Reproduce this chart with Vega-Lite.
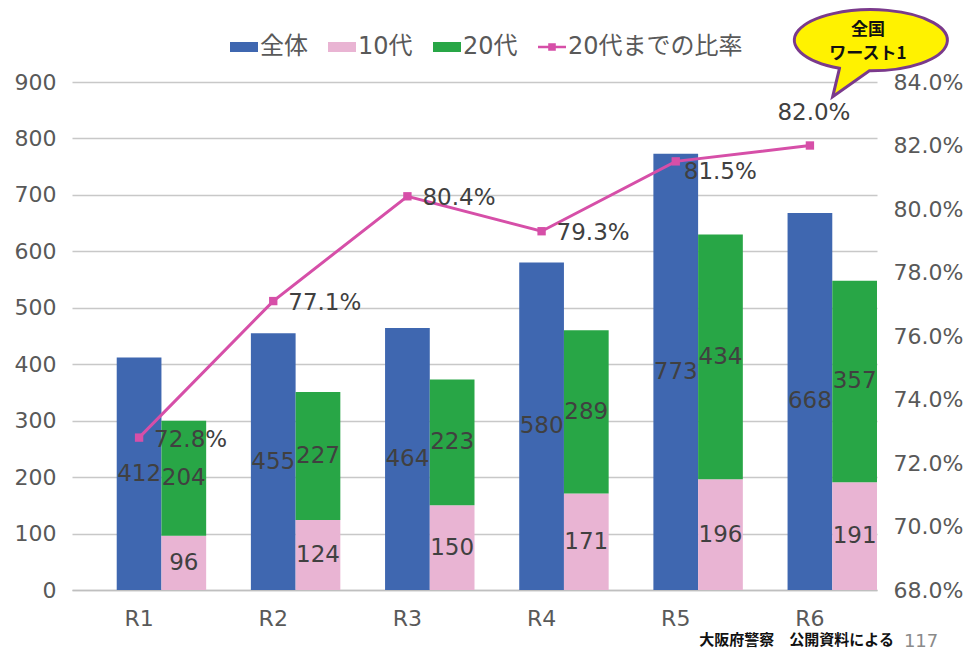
{
  "$schema": "https://vega.github.io/schema/vega-lite/v6.json",
  "width": 805,
  "height": 508,
  "autosize": "none",
  "padding": {"left": 72, "top": 82, "right": 90, "bottom": 65},
  "background": "#ffffff",
  "config": {
    "font": "DejaVu Sans, Noto Sans CJK JP",
    "view": {"stroke": null},
    "axis": {"labelFont": "DejaVu Sans, Noto Sans CJK JP", "labelColor": "#595959", "labelFontSize": 22, "ticks": false, "title": null}
  },
  "datasets": {
    "bars": [
      {"year": "R1", "series": "全体", "group": "全体", "value": 412},
      {"year": "R1", "series": "10代", "group": "10代・20代", "value": 96},
      {"year": "R1", "series": "20代", "group": "10代・20代", "value": 204},
      {"year": "R2", "series": "全体", "group": "全体", "value": 455},
      {"year": "R2", "series": "10代", "group": "10代・20代", "value": 124},
      {"year": "R2", "series": "20代", "group": "10代・20代", "value": 227},
      {"year": "R3", "series": "全体", "group": "全体", "value": 464},
      {"year": "R3", "series": "10代", "group": "10代・20代", "value": 150},
      {"year": "R3", "series": "20代", "group": "10代・20代", "value": 223},
      {"year": "R4", "series": "全体", "group": "全体", "value": 580},
      {"year": "R4", "series": "10代", "group": "10代・20代", "value": 171},
      {"year": "R4", "series": "20代", "group": "10代・20代", "value": 289},
      {"year": "R5", "series": "全体", "group": "全体", "value": 773},
      {"year": "R5", "series": "10代", "group": "10代・20代", "value": 196},
      {"year": "R5", "series": "20代", "group": "10代・20代", "value": 434},
      {"year": "R6", "series": "全体", "group": "全体", "value": 668},
      {"year": "R6", "series": "10代", "group": "10代・20代", "value": 191},
      {"year": "R6", "series": "20代", "group": "10代・20代", "value": 357}
    ],
    "ratio": [
      {"year": "R1", "ratio": 0.728},
      {"year": "R2", "ratio": 0.771},
      {"year": "R3", "ratio": 0.804},
      {"year": "R4", "ratio": 0.793},
      {"year": "R5", "ratio": 0.815},
      {"year": "R6", "ratio": 0.820}
    ],
    "notes": [{"note": "callout"}]
  },
  "layer": [
    {
      "data": {"name": "bars"},
      "transform": [
        {"stack": "value", "groupby": ["year", "group"], "sort": [{"field": "series", "order": "ascending"}], "as": ["v0", "v1"]},
        {"calculate": "(datum.v0 + datum.v1) / 2", "as": "mid"}
      ],
      "encoding": {
        "x": {
          "field": "year", "type": "nominal", "sort": ["R1", "R2", "R3", "R4", "R5", "R6"],
          "scale": {"paddingInner": 0, "paddingOuter": 0},
          "axis": {"labelAngle": 0, "labelPadding": 18, "domain": true, "domainColor": "#BFBFBF", "domainWidth": 1.5, "grid": false}
        },
        "xOffset": {"field": "group", "type": "nominal", "scale": {"domain": ["_", "全体", "10代・20代"], "paddingInner": 0, "paddingOuter": 0}}
      },
      "layer": [
        {
          "mark": {"type": "bar"},
          "encoding": {
            "y": {
              "field": "v1", "type": "quantitative",
              "scale": {"domain": [0, 900], "nice": false},
              "axis": {"values": [0, 100, 200, 300, 400, 500, 600, 700, 800, 900], "grid": true, "gridColor": "#C8C8C8", "gridWidth": 1.5, "domain": false, "labelPadding": 16, "orient": "left"}
            },
            "y2": {"field": "v0"},
            "color": {
              "field": "series", "type": "nominal",
              "scale": {"domain": ["全体", "10代", "20代", "20代までの比率"], "range": ["#3F67B0", "#E9B4D3", "#28A646", "#D64FA8"]},
              "legend": {
                "orient": "none", "direction": "horizontal", "legendX": 160, "legendY": -47,
                "title": null, "labelFontSize": 24, "labelColor": "#595959", "labelFont": "DejaVu Sans, Noto Sans CJK JP",
                "labelLimit": 400,
                "symbolSize": 400, "columnPadding": 20, "labelOffset": 4,
                "symbolType": "M-1.4,-0.5H1.4V0.5H-1.4Z",
                "encode": {
                  "symbols": {
                    "update": {
                      "shape": {"signal": "datum.value === '20代までの比率' ? 'M-1.4,-0.12H1.4V0.12H-1.4Z M-0.38,-0.38H0.38V0.38H-0.38Z' : 'M-1.4,-0.5H1.4V0.5H-1.4Z'"},
                      "fill": {"scale": "color", "field": "value"},
                      "fillOpacity": {"value": 1},
                      "strokeWidth": {"value": 0}
                    }
                  }
                }
              }
            }
          }
        },
        {
          "mark": {"type": "text", "fontSize": 23, "color": "#404040", "baseline": "middle"},
          "encoding": {
            "y": {"field": "mid", "type": "quantitative"},
            "text": {"field": "value", "type": "quantitative"}
          }
        }
      ]
    },
    {
      "data": {"name": "ratio"},
      "encoding": {
        "x": {"field": "year", "type": "nominal", "sort": ["R1", "R2", "R3", "R4", "R5", "R6"]},
        "y": {
          "field": "ratio", "type": "quantitative",
          "scale": {"domain": [0.68, 0.84], "nice": false, "zero": false},
          "axis": {"orient": "right", "values": [0.68, 0.70, 0.72, 0.74, 0.76, 0.78, 0.80, 0.82, 0.84], "format": ".1%", "grid": false, "domain": false, "labelPadding": 16}
        }
      },
      "layer": [
        {
          "mark": {"type": "line", "strokeWidth": 3, "point": {"shape": "square", "size": 70, "filled": true}},
          "encoding": {"color": {"datum": "20代までの比率"}}
        },
        {
          "transform": [{"filter": "indexof(['R1','R2','R3','R4'], datum.year) >= 0"}],
          "mark": {"type": "text", "fontSize": 23, "color": "#404040", "align": "left", "baseline": "middle", "dx": 15, "dy": 2},
          "encoding": {"text": {"field": "ratio", "type": "quantitative", "format": ".1%"}}
        },
        {
          "transform": [{"filter": "datum.year === 'R5'"}],
          "mark": {"type": "text", "fontSize": 23, "color": "#404040", "align": "left", "baseline": "middle", "dx": 8, "dy": 11},
          "encoding": {"text": {"field": "ratio", "type": "quantitative", "format": ".1%"}}
        },
        {
          "transform": [{"filter": "datum.year === 'R6'"}],
          "mark": {"type": "text", "fontSize": 23, "color": "#404040", "align": "center", "baseline": "middle", "dx": 4, "dy": -33},
          "encoding": {"text": {"field": "ratio", "type": "quantitative", "format": ".1%"}}
        }
      ]
    },
    {
      "data": {"name": "notes"},
      "layer": [
        {
          "mark": {"type": "point", "shape": "M-0.41,0.365L-0.5,0.74L-0.02,0.4A1,0.4 0 1,0 -0.41,0.365Z", "size": 23409, "filled": true, "fill": "#FFF200", "fillOpacity": 1, "stroke": "#7A3A8C", "strokeWidth": 3, "xOffset": 61, "clip": false},
          "encoding": {
            "x": {"datum": "R6", "type": "nominal"},
            "y": {"datum": 974, "type": "quantitative", "scale": {"domain": [0, 900], "nice": false}, "axis": null}
          }
        },
        {
          "mark": {"type": "text", "text": ["全国", "ワースト1"], "font": "Noto Sans CJK JP", "fontSize": 17, "fontWeight": "bold", "color": "#111111", "align": "center", "baseline": "middle", "lineHeight": 24, "dx": 58},
          "encoding": {
            "x": {"datum": "R6", "type": "nominal"},
            "y": {"datum": 993, "type": "quantitative"}
          }
        },
        {
          "mark": {"type": "text", "text": "大阪府警察　公開資料による", "font": "Noto Sans CJK JP", "fontSize": 15, "fontWeight": "bold", "color": "#111111", "align": "right", "baseline": "middle", "dx": 84},
          "encoding": {
            "x": {"datum": "R6", "type": "nominal"},
            "y": {"datum": -89, "type": "quantitative"}
          }
        },
        {
          "mark": {"type": "text", "text": "117", "fontSize": 18, "fontWeight": "normal", "color": "#8A8A8A", "align": "left", "baseline": "middle", "dx": 94, "letterSpacing": 4},
          "encoding": {
            "x": {"datum": "R6", "type": "nominal"},
            "y": {"datum": -92, "type": "quantitative"}
          }
        }
      ]
    }
  ],
  "resolve": {"scale": {"y": "independent"}}
}
